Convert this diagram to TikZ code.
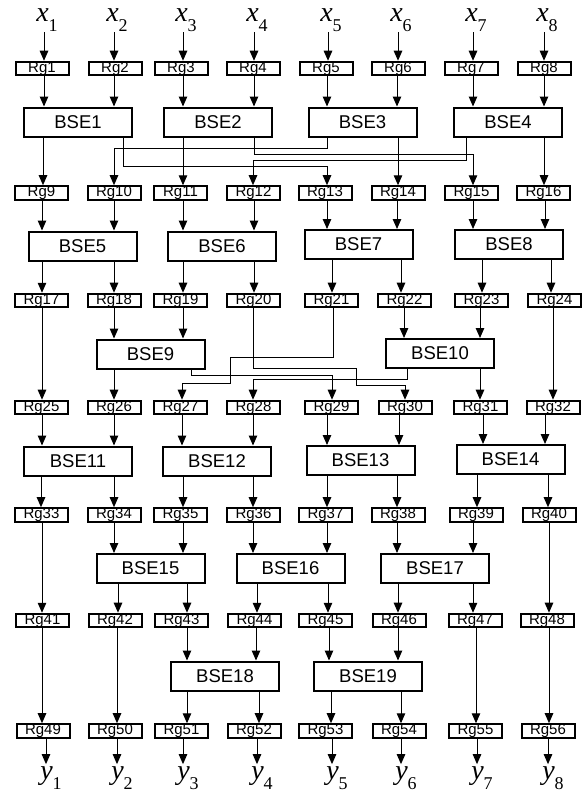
\documentclass[tikz,border=0pt]{standalone}
\usepackage{fontspec}
\setmainfont{Liberation Sans}
\newfontfamily\serifface{Liberation Serif}
\usetikzlibrary{arrows.meta}
\newcommand\inlab[2]{{\serifface\fontsize{28}{28}\selectfont\itshape #1}\raisebox{-10pt}{\serifface\fontsize{18}{18}\selectfont #2}}
\newcommand\va[3]{\draw[arr] (#2,0 |- #1.south) -- (#2,0 |- #3.north);}
\begin{document}
\begin{tikzpicture}[x=1pt,y=-1pt,
  rg/.style={draw,line width=2pt,minimum width=53pt,minimum height=13.5pt,inner sep=0pt,font=\fontsize{15}{15}\selectfont},
  bse/.style={draw,line width=2pt,minimum width=108pt,minimum height=29pt,inner sep=0pt,font=\fontsize{18.5}{18.5}\selectfont},
  arr/.style={-{Triangle[length=10pt,width=8.5pt]},line width=1pt},
  xlab/.style={inner sep=0pt,anchor=base},
  ylab/.style={inner sep=0pt,outer sep=0pt,anchor=base}]
\fill[white] (0,0) rectangle (587,792);
\useasboundingbox (0,0) rectangle (587,792);
% registers
\foreach \x [count=\i from 1] in {42,115,181,253,326,398,471,544} \node[rg] (r\i) at (\x,68.5) {Rg\i};
\foreach \x [count=\i from 9] in {41.5,114,180.5,253.5,325,398,471.5,543.5} \node[rg] (r\i) at (\x,193) {Rg\i};
\foreach \x [count=\i from 17] in {41.5,114,180.5,253.5,331.5,404.5,481.5,554.5} \node[rg] (r\i) at (\x,300.5) {Rg\i};
\foreach \x [count=\i from 25] in {41.5,114,180.5,253.5,331.5,405,480.5,553} \node[rg] (r\i) at (\x,407.5) {Rg\i};
\foreach \x [count=\i from 33] in {41.5,114,180.5,253.5,325.5,398,476,549} \node[rg] (r\i) at (\x,515) {Rg\i};
\foreach \x [count=\i from 41] in {42.5,115,181.5,254.5,325.5,399,475,547} \node[rg] (r\i) at (\x,620.5) {Rg\i};
\foreach \x [count=\i from 49] in {43,115,181.5,254,325.5,399,475.5,548} \node[rg] (r\i) at (\x,731) {Rg\i};
% BSE blocks
\node[bse] (b1) at (78,122) {BSE1};
\node[bse] (b2) at (218,122) {BSE2};
\node[bse] (b3) at (362.5,122) {BSE3};
\node[bse] (b4) at (508,122) {BSE4};
\node[bse] (b5) at (82.5,246) {BSE5};
\node[bse] (b6) at (222,246) {BSE6};
\node[bse] (b7) at (358.5,244.5) {BSE7};
\node[bse] (b8) at (509,244.5) {BSE8};
\node[bse] (b9) at (150.5,354) {BSE9};
\node[bse] (b10) at (440,353.5) {BSE10};
\node[bse] (b11) at (78,461) {BSE11};
\node[bse] (b12) at (217,461) {BSE12};
\node[bse] (b13) at (360.5,460.5) {BSE13};
\node[bse] (b14) at (510.5,459.5) {BSE14};
\node[bse] (b15) at (150.5,568.5) {BSE15};
\node[bse] (b16) at (290.5,568.5) {BSE16};
\node[bse] (b17) at (435,568.5) {BSE17};
\node[bse] (b18) at (225,676) {BSE18};
\node[bse] (b19) at (368,676) {BSE19};
% inputs
\foreach \x [count=\i from 1] in {44,114,183,254,328,398,473,544} {
  \node[xlab] (xl\i) at (\x+3,22) {\inlab{x}{\i}};
  \va{xl\i}{\x}{r\i}
}
% outputs
\foreach \x [count=\i from 1] in {46,117,183,257,332,401,477,548} {
  \node[ylab] (yl\i) at (\x+5,779) {\inlab{y}{\i}};
}
\foreach \x [count=\i from 49] in {46,117,183,257,332,401,477,548} {
  \pgfmathtruncatemacro\j{\i-48}
  \draw[arr,shorten >=2pt] (\x,0 |- r\i.south) -- (\x,0 |- yl\j.north);
}
% stage 1
\va{r1}{44}{b1} \va{r2}{114}{b1} \va{r3}{183}{b2} \va{r4}{254}{b2}
\va{r5}{327}{b3} \va{r6}{397}{b3} \va{r7}{473}{b4} \va{r8}{544}{b4}
\va{b1}{43}{r9} \va{b2}{183}{r11} \va{b3}{398}{r14} \va{b4}{544}{r16}
\draw[arr] (123,0 |- b1.south) -- (123,166) -- (327,166) -- (327,0 |- r13.north);
\draw[arr] (254,0 |- b2.south) -- (254,154) -- (473,154) -- (473,0 |- r15.north);
\draw[arr] (327,0 |- b3.south) -- (327,148) -- (114,148) -- (114,0 |- r10.north);
\draw[arr] (466,0 |- b4.south) -- (466,160) -- (253,160) -- (253,0 |- r12.north);
% stage 2
\va{r9}{42}{b5} \va{r10}{114}{b5} \va{r11}{183}{b6} \va{r12}{254}{b6}
\va{r13}{327}{b7} \va{r14}{397}{b7} \va{r15}{473}{b8} \va{r16}{545}{b8}
\va{b5}{42}{r17} \va{b5}{114}{r18} \va{b6}{183}{r19} \va{b6}{254}{r20}
\va{b7}{332}{r21} \va{b7}{401}{r22} \va{b8}{482}{r23} \va{b8}{551}{r24}
% stage 3
\va{r17}{42}{r25} \va{r18}{114}{b9} \va{r19}{183}{b9}
\va{r22}{404}{b10} \va{r23}{480}{b10} \va{r24}{553}{r32}
\va{b9}{114}{r26} \va{b10}{480}{r31}
\draw[arr] (253,0 |- r20.south) -- (253,368) -- (356,368) -- (356,385) -- (405,385) -- (405,0 |- r30.north);
\draw[arr] (333,0 |- r21.south) -- (333,357) -- (230,357) -- (230,383) -- (182,383) -- (182,0 |- r27.north);
\draw[arr] (191,0 |- b9.south) -- (191,375) -- (332,375) -- (332,0 |- r29.north);
\draw[arr] (407,0 |- b10.south) -- (407,379) -- (253,379) -- (253,0 |- r28.north);
% stage 4
\va{r25}{42}{b11} \va{r26}{114}{b11} \va{r27}{182}{b12} \va{r28}{253}{b12}
\va{r29}{327}{b13} \va{r30}{399}{b13} \va{r31}{483}{b14} \va{r32}{545}{b14}
\va{b11}{41}{r33} \va{b11}{114}{r34} \va{b12}{183}{r35} \va{b12}{253}{r36}
\va{b13}{327}{r37} \va{b13}{397}{r38} \va{b14}{477}{r39} \va{b14}{548}{r40}
% stage 5
\va{r33}{42}{r41} \va{r34}{114}{b15} \va{r35}{183}{b15} \va{r36}{253}{b16}
\va{r37}{327}{b16} \va{r38}{397}{b17} \va{r39}{473}{b17} \va{r40}{549}{r48}
\va{b15}{118}{r42} \va{b15}{187}{r43} \va{b16}{257}{r44} \va{b16}{328}{r45}
\va{b17}{398}{r46} \va{b17}{473}{r47}
% stage 6
\va{r41}{42}{r49} \va{r42}{117}{r50} \va{r43}{187}{b18} \va{r44}{256}{b18}
\va{r45}{329}{b19} \va{r46}{398}{b19} \va{r47}{476}{r55} \va{r48}{549}{r56}
\va{b18}{187}{r51} \va{b18}{259}{r52} \va{b19}{331}{r53} \va{b19}{401}{r54}
\end{tikzpicture}
\end{document}
